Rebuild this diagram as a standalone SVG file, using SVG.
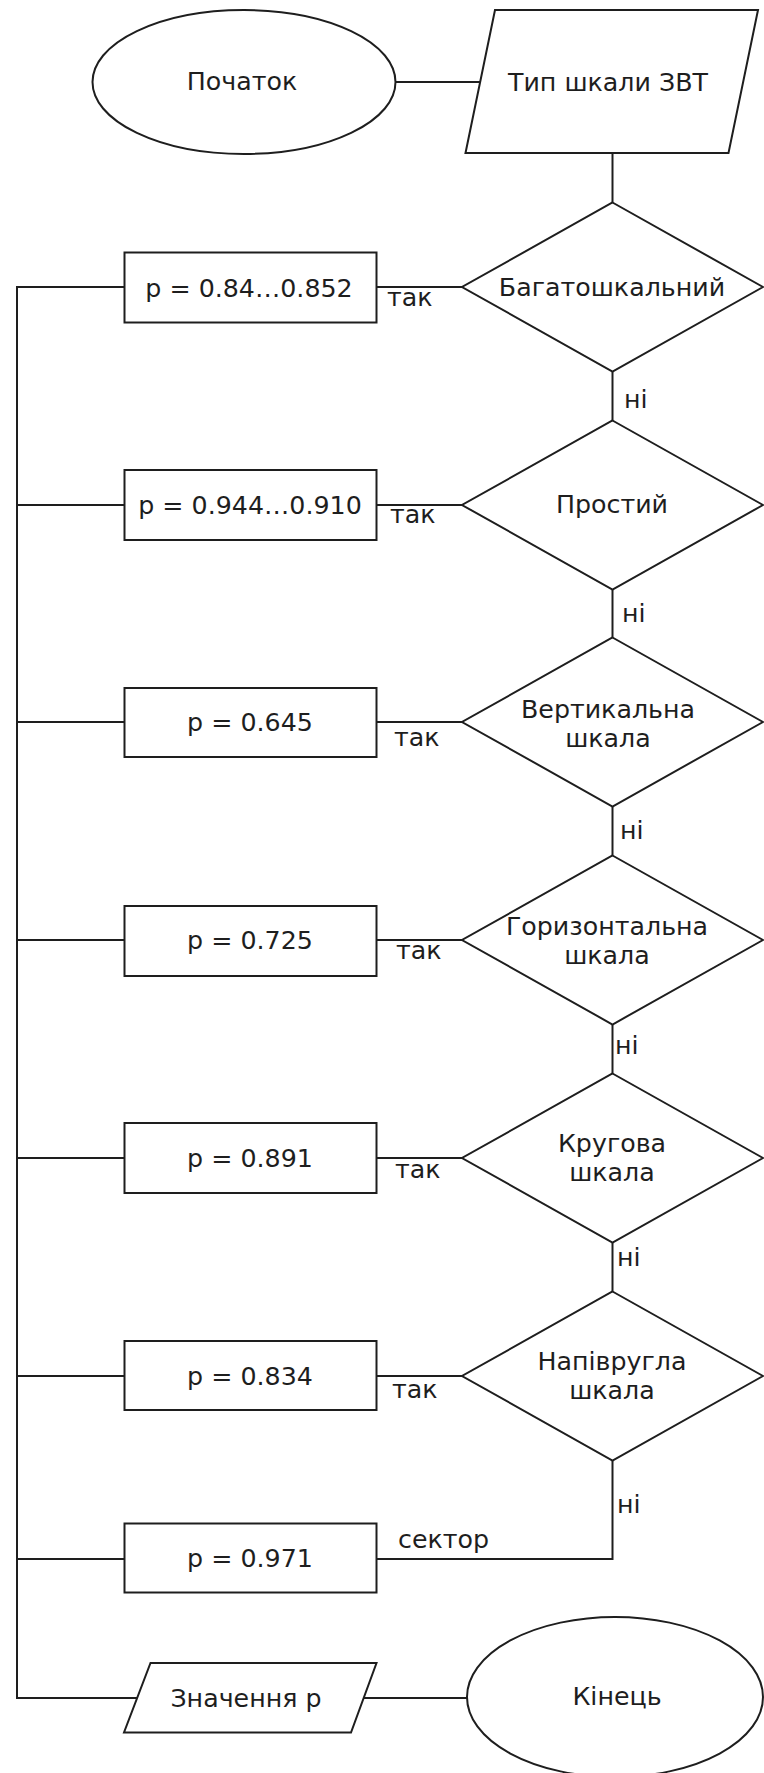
<svg xmlns="http://www.w3.org/2000/svg" width="764" height="1773" viewBox="0 0 764 1773">
  <style>
    .shape { fill: #ffffff; stroke: #1e1e1e; stroke-width: 2; }
    .wire { fill: none; stroke: #1e1e1e; stroke-width: 2; }
    text { font-family: "DejaVu Sans", "Liberation Sans", sans-serif; font-size: 25.3px; fill: #1e1e1e; }
    .c { text-anchor: middle; }
  </style>
  <rect width="764" height="1773" fill="#ffffff"/>

  <!-- connectors -->
  <g id="connectors">
    <line class="wire" x1="396" y1="82" x2="480" y2="82"/>
    <line class="wire" x1="612.5" y1="153" x2="612.5" y2="202.5"/>
    <line class="wire" x1="612.5" y1="371.5" x2="612.5" y2="420.5"/>
    <line class="wire" x1="612.5" y1="589.5" x2="612.5" y2="637.5"/>
    <line class="wire" x1="612.5" y1="806.5" x2="612.5" y2="855.5"/>
    <line class="wire" x1="612.5" y1="1024.5" x2="612.5" y2="1073.5"/>
    <line class="wire" x1="612.5" y1="1242.5" x2="612.5" y2="1291.5"/>
    <polyline class="wire" points="612.5,1460.5 612.5,1559 376.5,1559"/>
    <!-- yes branches -->
    <line class="wire" x1="462" y1="287" x2="376.5" y2="287"/>
    <line class="wire" x1="462" y1="505" x2="376.5" y2="505"/>
    <line class="wire" x1="462" y1="722" x2="376.5" y2="722"/>
    <line class="wire" x1="462" y1="940" x2="376.5" y2="940"/>
    <line class="wire" x1="462" y1="1158" x2="376.5" y2="1158"/>
    <line class="wire" x1="462" y1="1376" x2="376.5" y2="1376"/>
    <!-- collector bus on the left -->
    <line class="wire" x1="124.5" y1="287" x2="17" y2="287"/>
    <line class="wire" x1="124.5" y1="505" x2="17" y2="505"/>
    <line class="wire" x1="124.5" y1="722" x2="17" y2="722"/>
    <line class="wire" x1="124.5" y1="940" x2="17" y2="940"/>
    <line class="wire" x1="124.5" y1="1158" x2="17" y2="1158"/>
    <line class="wire" x1="124.5" y1="1376" x2="17" y2="1376"/>
    <line class="wire" x1="124.5" y1="1559" x2="17" y2="1559"/>
    <polyline class="wire" points="17,286 17,1698 137.5,1698"/>
    <line class="wire" x1="364" y1="1698" x2="467" y2="1698"/>

    <text x="387" y="306">так</text>
    <text x="390" y="523">так</text>
    <text x="394" y="746">так</text>
    <text x="396" y="959">так</text>
    <text x="395" y="1178">так</text>
    <text x="392" y="1398">так</text>

    <text x="624" y="408">ні</text>
    <text x="622" y="622">ні</text>
    <text x="620" y="839">ні</text>
    <text x="615" y="1054">ні</text>
    <text x="617" y="1266">ні</text>
    <text x="617" y="1513">ні</text>

    <text x="398" y="1548">сектор</text>
  </g>

  <g id="start">
    <ellipse class="shape" cx="244" cy="82" rx="151.5" ry="72"/>
    <text x="242" y="90" class="c">Початок</text>
  </g>

  <g id="input-type">
    <polygon class="shape" points="495,10 758,10 728.5,153 465.5,153"/>
    <text x="608" y="91" class="c">Тип шкали ЗВТ</text>
  </g>

  <g id="d-multi">
    <polygon class="shape" points="612.5,202.5 763,287 612.5,371.5 462,287"/>
    <text x="612" y="296" class="c">Багатошкальний</text>
  </g>
  <g id="d-simple">
    <polygon class="shape" points="612.5,420.5 763,505 612.5,589.5 462,505"/>
    <text x="612" y="513" class="c">Простий</text>
  </g>
  <g id="d-vertical">
    <polygon class="shape" points="612.5,637.5 763,722 612.5,806.5 462,722"/>
    <text x="608" y="718" class="c">Вертикальна</text>
    <text x="608" y="747" class="c">шкала</text>
  </g>
  <g id="d-horizontal">
    <polygon class="shape" points="612.5,855.5 763,940 612.5,1024.5 462,940"/>
    <text x="607" y="935" class="c">Горизонтальна</text>
    <text x="607" y="964" class="c">шкала</text>
  </g>
  <g id="d-round">
    <polygon class="shape" points="612.5,1073.5 763,1158 612.5,1242.5 462,1158"/>
    <text x="612" y="1152" class="c">Кругова</text>
    <text x="612" y="1181" class="c">шкала</text>
  </g>
  <g id="d-semiround">
    <polygon class="shape" points="612.5,1291.5 763,1376 612.5,1460.5 462,1376"/>
    <text x="612" y="1370" class="c">Напівругла</text>
    <text x="612" y="1399" class="c">шкала</text>
  </g>

  <g id="p-multi">
    <rect class="shape" x="124.5" y="252.5" width="252" height="70"/>
    <text x="249" y="296.5" class="c">p = 0.84…0.852</text>
  </g>
  <g id="p-simple">
    <rect class="shape" x="124.5" y="470" width="252" height="70"/>
    <text x="250" y="514" class="c">p = 0.944…0.910</text>
  </g>
  <g id="p-vertical">
    <rect class="shape" x="124.5" y="688" width="252" height="69"/>
    <text x="250" y="731" class="c">p = 0.645</text>
  </g>
  <g id="p-horizontal">
    <rect class="shape" x="124.5" y="906" width="252" height="70"/>
    <text x="250" y="949" class="c">p = 0.725</text>
  </g>
  <g id="p-round">
    <rect class="shape" x="124.5" y="1123" width="252" height="70"/>
    <text x="250" y="1167" class="c">p = 0.891</text>
  </g>
  <g id="p-semiround">
    <rect class="shape" x="124.5" y="1341" width="252" height="69"/>
    <text x="250" y="1385" class="c">p = 0.834</text>
  </g>
  <g id="p-sector">
    <rect class="shape" x="124.5" y="1523.5" width="252" height="69"/>
    <text x="250" y="1567" class="c">p = 0.971</text>
  </g>

  <g id="output-p">
    <polygon class="shape" points="150.5,1663 376.5,1663 351,1732.5 124,1732.5"/>
    <text x="246" y="1707" class="c">Значення p</text>
  </g>

  <g id="end">
    <ellipse class="shape" cx="615" cy="1697" rx="148" ry="80"/>
    <text x="617" y="1705" class="c">Кінець</text>
  </g>
</svg>
